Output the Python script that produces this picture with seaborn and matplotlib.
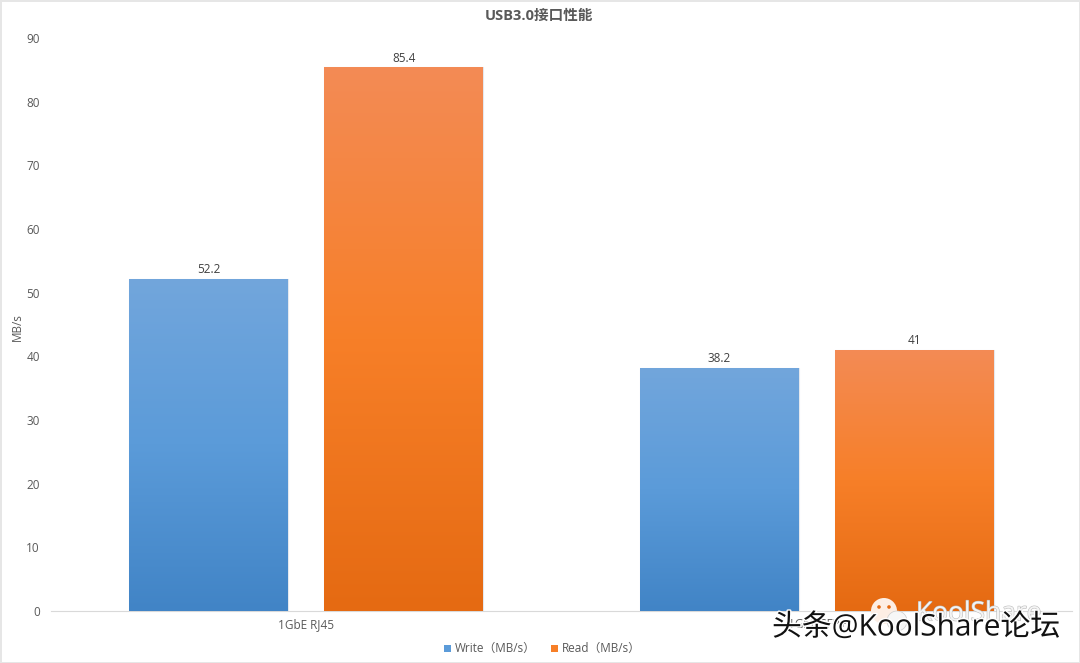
import numpy as np
import pandas as pd
import matplotlib.pyplot as plt
from matplotlib.colors import LinearSegmentedColormap
from matplotlib.patches import Circle, Rectangle
import matplotlib.patheffects as pe
import seaborn as sns

categories = ['1GbE RJ45', '1GbE SFP+']
series_names = ['Write\uff08MB/s\uff09', 'Read\uff08MB/s\uff09']
write_values = [52.2, 38.2]
read_values = [85.4, 41]
value_labels = [['52.2', '38.2'], ['85.4', '41']]
yticks = [0, 10, 20, 30, 40, 50, 60, 70, 80, 90]

blue_grad = ['#72A6DC', '#5B9BD9', '#4184C6']
orange_grad = ['#F38B55', '#F77F28', '#E56A12']

sns.set_theme(style='white')
plt.rcParams['font.family'] = ['Open Sans', 'Noto Sans CJK SC', 'DejaVu Sans']

df = pd.DataFrame({
    'cat': categories * 2,
    'series': [series_names[0]] * 2 + [series_names[1]] * 2,
    'val': write_values + read_values,
})

fig = plt.figure(figsize=(10.8, 6.63), dpi=100)
ax = fig.add_axes([51 / 1080, 1 - 611 / 663, 1021 / 1080, 573 / 663])

sns.barplot(data=df, x='cat', y='val', hue='series', ax=ax, width=0.764, gap=0.185,
            palette=[blue_grad[1], orange_grad[1]], legend=False, edgecolor='#e4e8ee', linewidth=0.8)

# 막대에 그라데이션 입히기
cmaps = [LinearSegmentedColormap.from_list('b', blue_grad), LinearSegmentedColormap.from_list('o', orange_grad)]
grad = np.linspace(0, 1, 256).reshape(-1, 1)
for i, cont in enumerate(ax.containers):
    for bar, txt in zip(cont, value_labels[i]):
        x0, w, h = bar.get_x(), bar.get_width(), bar.get_height()
        im = ax.imshow(grad, extent=[x0, x0 + w, 0, h], origin='upper', cmap=cmaps[i], aspect='auto', zorder=3)
        im.set_clip_path(bar)
        ax.text(x0 + w / 2, h + 0.4, txt, ha='center', va='bottom', fontsize=8.5, color='#404040')

ax.set_xlim(-0.5, 1.5)
ax.set_ylim(0, 90)
ax.set_yticks(yticks)
ax.set_xlabel('')
ax.set_ylabel('MB/s', fontsize=8.5, color='#595959')
ax.yaxis.set_label_coords(-27 / 1021, 0.495)
ax.tick_params(axis='y', labelsize=8.5, labelcolor='#595959', length=0, pad=8)
ax.tick_params(axis='x', labelsize=8.5, labelcolor='#595959', length=0, pad=5)
sns.despine(ax=ax, left=True)
ax.spines['bottom'].set_color('#d9d9d9')
ax.spines['bottom'].set_linewidth(0.8)

fig.text(539 / 1080, 1 - 16 / 663, 'USB3.0接口性能', ha='center', va='center',
         fontsize=10.5, fontweight='bold', color='#595959')

# 범례
fig.patches.append(Rectangle((444 / 1080, 1 - 652 / 663), 7 / 1080, 7 / 663, transform=fig.transFigure,
                             facecolor=blue_grad[1], edgecolor='none'))
fig.text(455 / 1080, 1 - 648 / 663, series_names[0], va='center', fontsize=8.5, color='#595959')
fig.patches.append(Rectangle((551 / 1080, 1 - 652 / 663), 7 / 1080, 7 / 663, transform=fig.transFigure,
                             facecolor=orange_grad[1], edgecolor='none'))
fig.text(562 / 1080, 1 - 648 / 663, series_names[1], va='center', fontsize=8.5, color='#595959')

# 워터마크
overlay = fig.add_axes([0, 0, 1, 1], facecolor='none')
overlay.set_xlim(0, 1080)
overlay.set_ylim(663, 0)
overlay.axis('off')
overlay.add_patch(Circle((884, 611), 13, facecolor='#fdeee4', edgecolor='none'))
overlay.add_patch(Circle((897, 621), 10, facecolor='#f7f7f7', edgecolor='#cccccc', linewidth=0.5))
overlay.add_patch(Circle((879, 607), 1.8, facecolor='#e56a12', edgecolor='none'))
overlay.add_patch(Circle((889, 607), 1.8, facecolor='#e56a12', edgecolor='none'))
overlay.text(916, 614, 'KoolShare', fontsize=19, color='#f4f4f4', va='center', ha='left',
             path_effects=[pe.withStroke(linewidth=0.8, foreground='#bbbbbb')])
overlay.text(772, 628, '头条@KoolShare论坛', fontsize=21.5, color='#111111', va='center', ha='left',
             path_effects=[pe.withStroke(linewidth=2, foreground='white')])

fig.patch.set_edgecolor('#e6e6e6')
fig.patch.set_linewidth(1.0)
fig.savefig('out.png', dpi=100, edgecolor=fig.get_edgecolor())
